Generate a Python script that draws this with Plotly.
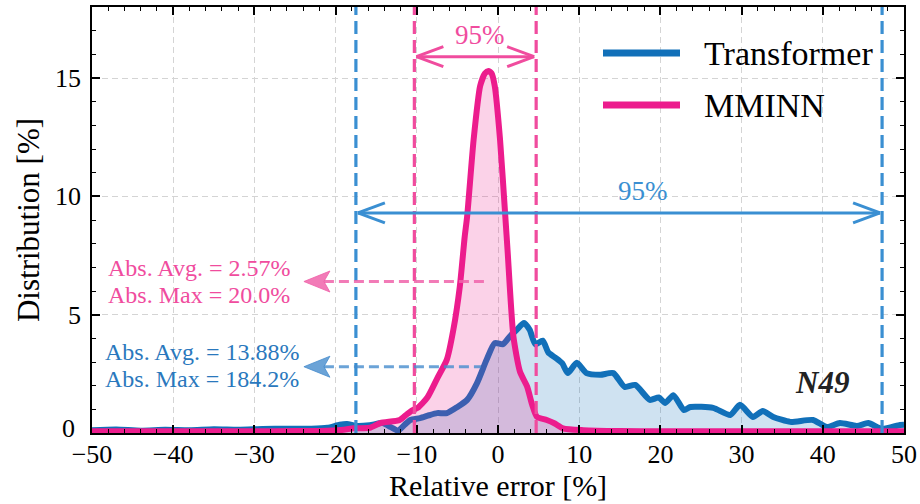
import plotly.graph_objects as go

# ---------------- data ----------------
trans_x = [-50, -47, -44, -41, -38, -35, -32, -29, -26, -23, -21, -19.5, -18.6, -17.4, -15.8, -14.2,
           -13.2, -12.3, -11.5, -10.8, -9.6, -8.5, -7.5, -6.3, -5.0, -3.8, -2.6, -1.4, -0.4, 0.6,
           1.5, 2.3, 3.2, 3.9, 4.6, 5.5, 6.2, 7.0, 7.9, 8.6, 9.7, 10.9, 12.6, 14.2, 15.6, 16.9,
           18.7, 19.8, 20.6, 21.6, 22.9, 23.7, 26.5, 28.6, 29.8, 31.4, 32.6, 33.9, 36.0, 38.8,
           40.5, 42.1, 44.2, 45.6, 47.3, 49.5, 50]
trans_y = [0.12, 0.15, 0.1, 0.14, 0.12, 0.16, 0.14, 0.17, 0.18, 0.18, 0.22, 0.35, 0.38, 0.3, 0.33, 0.42,
           0.25, 0.1, 0.35, 0.55, 0.63, 0.75, 0.84, 0.84, 1.1, 1.4, 2.1, 3.1, 3.8, 3.75,
           4.1, 4.36, 4.65, 4.36, 3.75, 3.9, 3.4, 3.2, 2.95, 2.53, 2.97, 2.53, 2.46, 2.53, 1.95, 2.03,
           1.4, 1.5, 1.27, 1.6, 0.97, 1.1, 1.06, 0.76, 1.19, 0.68, 0.93, 0.68, 0.47, 0.55,
           0.25, 0.42, 0.3, 0.42, 0.17, 0.34, 0.35]

mminn_x = [-50, -40, -30, -25, -21, -19, -17.8, -15.8, -14.5, -12.1, -11.2, -10.5, -9.9, -8.7, -7.5,
           -6.3, -5.5, -4.7, -4.1, -3.8, -3.0, -2.2, -1.6, -1.2, -0.8, -0.4, 0.25, 0.9, 1.2, 1.9,
           2.7, 3.6, 4.2, 4.8, 6.0, 7.0, 8.0, 10.5, 15, 20, 30, 40, 50]
mminn_y = [0.07, 0.07, 0.07, 0.08, 0.1, 0.14, 0.2, 0.22, 0.42, 0.55, 0.8, 0.97, 1.06, 1.5, 2.3,
           3.1, 4.36, 6.2, 8.3, 9.15, 12.4, 14.66, 15.2, 15.3, 15.2, 14.66, 12.4, 9.15, 7.6, 4.07,
           2.6, 1.95, 1.2, 0.68, 0.55, 0.4, 0.2, 0.12, 0.08, 0.07, 0.07, 0.07, 0.07]

series_names = ["Transformer", "MMINN"]
trans_bounds = [-17.5, 47.3]   # 95% interval
mminn_bounds = [-10.3, 4.7]    # 95% interval
trans_stats = ["Abs. Avg. = 13.88%", "Abs. Max = 184.2%"]
mminn_stats = ["Abs. Avg. = 2.57%", "Abs. Max = 20.0%"]
y_tickvals = [0, 5, 10, 15]
y_ticklabels = ["0", "5", "10", "15"]
label_95 = "95%"
panel_label = "N49"

# ---------------- style ----------------
BLUE = "#1170b9"
PINK = "#ec1c8d"
BLUE_DASH = "#3a8fd2"
PINK_DASH = "#f04c9e"
BLUE_SOFT = "rgba(70,140,205,0.8)"
PINK_SOFT = "rgba(240,100,170,0.85)"
FONT = "Liberation Serif"
TICK_SIZE = 26

W, H = 920, 504
ML, MR, MT, MB = 92, 16, 7, 71
XR = [-50, 50]
YR = [0, 18]
PW, PH = W - ML - MR, H - MT - MB
pxx = PW / (XR[1] - XR[0])
pxy = PH / (YR[1] - YR[0])


def px_to_paper_x(px):
    return (px - ML) / PW


def px_to_paper_y(py):
    return 1 - (py - MT) / PH


fig = go.Figure()
fig.add_trace(go.Scatter(x=trans_x, y=trans_y, mode="lines", name=series_names[0],
                         line=dict(color=BLUE, width=6, shape="spline", smoothing=0.6),
                         fill="tozeroy", fillcolor="rgba(17,112,185,0.2)", showlegend=False))
fig.add_trace(go.Scatter(x=mminn_x, y=mminn_y, mode="lines", name=series_names[1],
                         line=dict(color=PINK, width=6, shape="spline", smoothing=0.6),
                         fill="tozeroy", fillcolor="rgba(236,28,141,0.2)", showlegend=False))

shapes = []
annotations = []

# vertical 95% bound lines
for xb in trans_bounds:
    shapes.append(dict(type="line", xref="x", yref="paper", x0=xb, x1=xb, y0=0, y1=1,
                       line=dict(color=BLUE_DASH, width=3.2, dash="13px,6px"), layer="above"))
for xb in mminn_bounds:
    shapes.append(dict(type="line", xref="x", yref="paper", x0=xb, x1=xb, y0=0, y1=1,
                       line=dict(color=PINK_DASH, width=3.2, dash="13px,6px"), layer="above"))


def double_arrow(x0, x1, y, color, inset_px=2):
    hl = 27 / pxx
    hh = 10 / pxy
    a = x0 + inset_px / pxx
    b = x1 - inset_px / pxx
    out = [dict(type="line", xref="x", yref="y", x0=a, x1=b, y0=y, y1=y,
                line=dict(color=color, width=3), layer="above")]
    for tip, sgn in ((a, 1), (b, -1)):
        for dy in (hh, -hh):
            out.append(dict(type="line", xref="x", yref="y", x0=tip, y0=y, x1=tip + sgn * hl, y1=y + dy,
                            line=dict(color=color, width=3), layer="above"))
    return out


arrow_y_pink = 15.9
arrow_y_blue = 9.3
shapes += double_arrow(mminn_bounds[0], mminn_bounds[1], arrow_y_pink, PINK_DASH)
shapes += double_arrow(trans_bounds[0], trans_bounds[1], arrow_y_blue, BLUE_DASH)

annotations.append(dict(x=-2.2, y=arrow_y_pink + 0.2,
                        xref="x", yref="y", text=label_95, showarrow=False,
                        xanchor="center", yanchor="bottom",
                        font=dict(family=FONT, size=27, color=PINK_DASH)))
annotations.append(dict(x=17.8, y=arrow_y_blue + 0.2, xref="x", yref="y", text=label_95,
                        showarrow=False, xanchor="center", yanchor="bottom",
                        font=dict(family=FONT, size=27, color=BLUE_DASH)))


def dashed_left_arrow(x_tail, x_tip, y, color):
    hl = 26 / pxx
    notch = 20 / pxx
    hh = 10.5 / pxy
    out = [dict(type="line", xref="x", yref="y", x0=x_tip + notch, x1=x_tail, y0=y, y1=y,
                line=dict(color=color, width=3, dash="10px,5px"), layer="above")]
    path = (f"M {x_tip},{y} L {x_tip + hl},{y + hh} L {x_tip + notch},{y} "
            f"L {x_tip + hl},{y - hh} Z")
    out.append(dict(type="path", xref="x", yref="y", path=path, fillcolor=color,
                    line=dict(color=color, width=1), layer="above"))
    return out


tip_x = -23.9
shapes += dashed_left_arrow(-1.2, tip_x, 6.4, PINK_SOFT)
shapes += dashed_left_arrow(-2.1, tip_x, 2.8, BLUE_SOFT)

# statistics text
for txt, py in zip(mminn_stats, [268, 295]):
    annotations.append(dict(x=px_to_paper_x(106), y=px_to_paper_y(py), xref="paper", yref="paper",
                            text=txt, showarrow=False, xanchor="left", yanchor="middle",
                            font=dict(family=FONT, size=24, color=PINK_DASH)))
for txt, py in zip(trans_stats, [352, 379]):
    annotations.append(dict(x=px_to_paper_x(103), y=px_to_paper_y(py), xref="paper", yref="paper",
                            text=txt, showarrow=False, xanchor="left", yanchor="middle",
                            font=dict(family=FONT, size=24, color="#2a78bd")))

# panel label
annotations.append(dict(x=px_to_paper_x(822), y=px_to_paper_y(382), xref="paper", yref="paper",
                        text=f"<b><i>{panel_label}</i></b>", showarrow=False,
                        xanchor="center", yanchor="middle",
                        font=dict(family=FONT, size=31, color="#222222")))

# y tick label "0" lifted slightly so it does not collide with the x tick "-50"
annotations.append(dict(x=px_to_paper_x(77), y=px_to_paper_y(428), xref="paper", yref="paper",
                        text=y_ticklabels[0], showarrow=False, xanchor="right", yanchor="middle",
                        font=dict(family=FONT, size=TICK_SIZE, color="black")))

# custom legend
for name, col, py in zip(series_names, [BLUE, PINK], [53, 105]):
    shapes.append(dict(type="line", xref="paper", yref="paper",
                       x0=px_to_paper_x(603), x1=px_to_paper_x(680),
                       y0=px_to_paper_y(py), y1=px_to_paper_y(py),
                       line=dict(color=col, width=7), layer="above"))
    annotations.append(dict(x=px_to_paper_x(702), y=px_to_paper_y(py), xref="paper", yref="paper",
                            text=name, showarrow=False, xanchor="left", yanchor="middle",
                            font=dict(family=FONT, size=34, color="black")))

axis_common = dict(showline=True, linecolor="black", linewidth=1.5, mirror="allticks",
                   ticks="inside", ticklen=8, tickwidth=1.5, tickcolor="black",
                   showgrid=True, gridcolor="#d4d4d4", gridwidth=1.3, griddash="6px,4px",
                   zeroline=False, automargin=False,
                   tickfont=dict(family=FONT, size=TICK_SIZE, color="black"))

fig.update_layout(
    width=W, height=H,
    margin=dict(l=ML, r=MR, t=MT, b=MB),
    paper_bgcolor="white", plot_bgcolor="white",
    font=dict(family=FONT, color="black"),
    showlegend=False,
    shapes=shapes, annotations=annotations,
    xaxis=dict(range=XR, dtick=10, tick0=0, ticklabelstandoff=-3,
               title=dict(text="Relative error [%]", font=dict(family=FONT, size=30), standoff=0),
               minor=dict(dtick=2, ticks="inside", ticklen=4, tickwidth=1.2, tickcolor="black", showgrid=False),
               **axis_common),
    yaxis=dict(range=YR, tickmode="array", tickvals=y_tickvals,
               ticktext=[""] + y_ticklabels[1:], ticklabelstandoff=4,
               title=dict(text="Distribution [%]", font=dict(family=FONT, size=31), standoff=6),
               minor=dict(dtick=1, tick0=0, ticks="inside", ticklen=4, tickwidth=1.2, tickcolor="black", showgrid=False),
               **axis_common),
)

fig.write_html("out.html")
